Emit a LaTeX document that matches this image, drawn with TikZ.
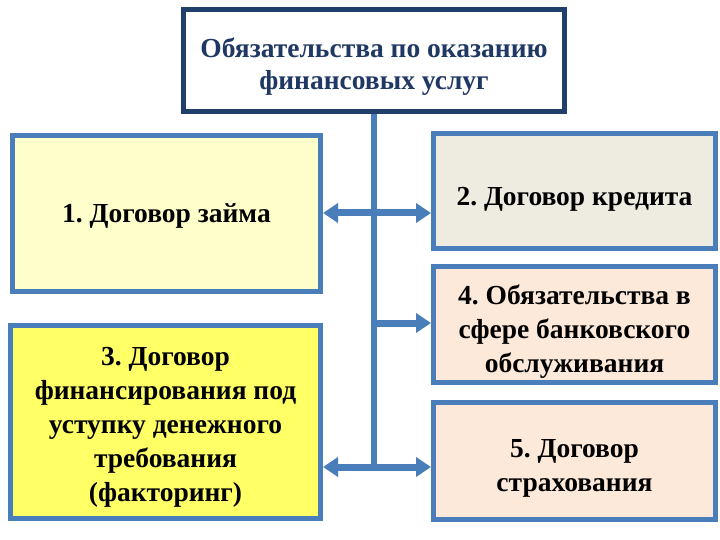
\documentclass[tikz,border=0pt]{standalone}
\usepackage{fontspec}
\setmainfont{Liberation Serif}
\frenchspacing
\usetikzlibrary{arrows.meta}
\definecolor{navy}{HTML}{1F3864}
\definecolor{navyb}{HTML}{203F6B}
\definecolor{steel}{HTML}{4A7EBB}
\definecolor{fone}{HTML}{FFFFCC}
\definecolor{fthree}{HTML}{FFFF66}
\definecolor{ftwo}{HTML}{EEECE1}
\definecolor{ffour}{HTML}{FDE9D9}
\tikzset{
  box/.style={draw=steel, line width=5pt, rectangle, inner sep=0pt},
  lbl/.style={align=center, inner sep=0pt,
    font=\fontsize{27.5}{34}\selectfont\bfseries, text=black},
  topbox/.style={draw=navyb, line width=5pt, fill=white, rectangle, inner sep=0pt},
  toplbl/.style={align=center, inner sep=0pt,
    font=\fontsize{27.5}{32}\selectfont\bfseries, text=navy},
  conn/.style={draw=steel, line width=6pt},
  arr/.style={draw=steel, line width=7pt, -{Triangle[length=15pt,width=19pt]}},
  darr/.style={draw=steel, line width=7pt, {Triangle[length=15pt,width=19pt]}-{Triangle[length=15pt,width=19pt]}}
}
\begin{document}
\begin{tikzpicture}[x=1pt,y=-1pt]
\useasboundingbox[fill=white] (0,0) rectangle (720,540);
\node[topbox, minimum width=381pt, minimum height=102pt] (top) at (374,60.5) {};
\node[toplbl] (topt) at ([yshift=-6pt]top.center) {Обязательства по оказанию\\финансовых услуг};
\node[box, fill=fone, minimum width=308pt, minimum height=156pt] (b1) at (166.5,213.5) {};
\node[lbl] (b1t) at ([yshift=-2pt]b1.center) {1. Договор займа};
\node[box, fill=fthree, minimum width=310pt, minimum height=193pt] (b3) at (165.5,422) {};
\node[lbl] (b3t) at ([yshift=-5pt]b3.center) {3. Договор\\финансирования под\\уступку денежного\\требования\\(факторинг)};
\node[box, fill=ftwo, minimum width=282pt, minimum height=115pt] (b2) at (574.5,191) {};
\node[lbl] (b2t) at ([yshift=-8pt]b2.center) {2. Договор кредита};
\node[box, fill=ffour, minimum width=282pt, minimum height=116pt] (b4) at (574.5,324.5) {};
\node[lbl] (b4t) at ([yshift=-7pt]b4.center) {4. Обязательства в\\сфере банковского\\обслуживания};
\node[box, fill=ffour, minimum width=282pt, minimum height=117pt] (b5) at (574.5,461) {};
\node[lbl] (b5t) at ([yshift=-7pt]b5.center) {5. Договор\\страхования};
\coordinate (j1) at (374,213);
\coordinate (j2) at (374,323);
\coordinate (j3) at (374,467);
\draw[conn] (top.south) -- (j3);
\draw[darr] (b1.east |- j1) -- (b2.west |- j1);
\draw[arr] (j2) -- (b4.west |- j2);
\draw[darr] (b3.east |- j3) -- (b5.west |- j3);
\end{tikzpicture}
\end{document}
